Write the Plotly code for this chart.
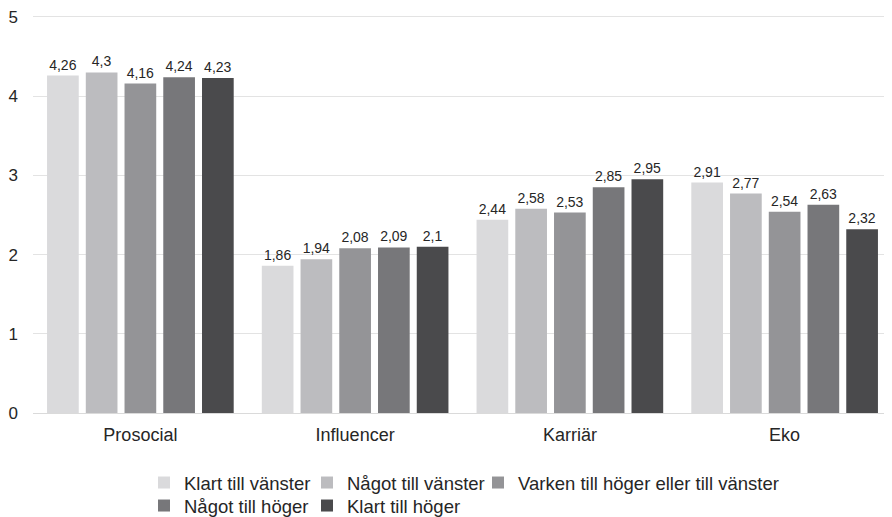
import plotly.graph_objects as go

categories = ["Prosocial", "Influencer", "Karriär", "Eko"]

series_names = [
    "Klart till vänster",
    "Något till vänster",
    "Varken till höger eller till vänster",
    "Något till höger",
    "Klart till höger",
]

klart_vanster = [4.26, 1.86, 2.44, 2.91]
nagot_vanster = [4.3, 1.94, 2.58, 2.77]
varken = [4.16, 2.08, 2.53, 2.54]
nagot_hoger = [4.24, 2.09, 2.85, 2.63]
klart_hoger = [4.23, 2.1, 2.95, 2.32]

values = [klart_vanster, nagot_vanster, varken, nagot_hoger, klart_hoger]
colors = ["#DADADC", "#BCBCBF", "#949497", "#77777A", "#4A4A4C"]

# legend entries: text start x and row centre y, in page pixels
legend_x = [180, 343, 514, 180, 343]
legend_y = [483, 483, 483, 506, 506]

# the page body has an 8px default margin, so the figure is 8px smaller
OFF = 8
W, H = 892 - OFF, 517 - OFF
font = "Liberation Sans, Arial, sans-serif"

fig = go.Figure()
legend_layout = {}
for i, (name, vals, col) in enumerate(zip(series_names, values, colors)):
    lid = "legend" if i == 0 else f"legend{i + 1}"
    fig.add_bar(
        x=categories,
        y=vals,
        name=name,
        marker=dict(color=col, line=dict(width=0)),
        text=[str(v).replace(".", ",") for v in vals],
        textposition="outside",
        textfont=dict(size=14, color="#262626", family=font),
        cliponaxis=False,
        legend=lid,
    )
    legend_layout[lid] = dict(
        orientation="h",
        xref="container", yref="container",
        x=(legend_x[i] - 36 - OFF) / W, xanchor="left",
        y=1 - (legend_y[i] - OFF) / H, yanchor="middle",
        font=dict(size=18.5, color="#262626"),
        itemwidth=30,
        bgcolor="rgba(0,0,0,0)",
    )

fig.update_layout(
    width=W,
    height=H,
    margin=dict(l=25, r=0, t=5, b=104, autoexpand=False),
    plot_bgcolor="white",
    paper_bgcolor="white",
    barmode="group",
    bargap=0.098,
    bargroupgap=0.182,
    font=dict(family=font, size=17, color="#262626"),
    showlegend=True,
    yaxis=dict(
        range=[0, 5.05],
        tickvals=[0, 1, 2, 3, 4, 5],
        showgrid=True,
        gridcolor="#E3E3E3",
        gridwidth=1,
        zeroline=False,
        showline=False,
        ticks="",
        ticklabelstandoff=14,
        ticklabeloverflow="allow",
        tickfont=dict(size=17),
    ),
    xaxis=dict(
        showline=True,
        linecolor="#DADADA",
        linewidth=1,
        ticks="",
        ticklabelstandoff=5,
        tickfont=dict(size=18),
    ),
    **legend_layout,
)

fig.write_html("out.html")
